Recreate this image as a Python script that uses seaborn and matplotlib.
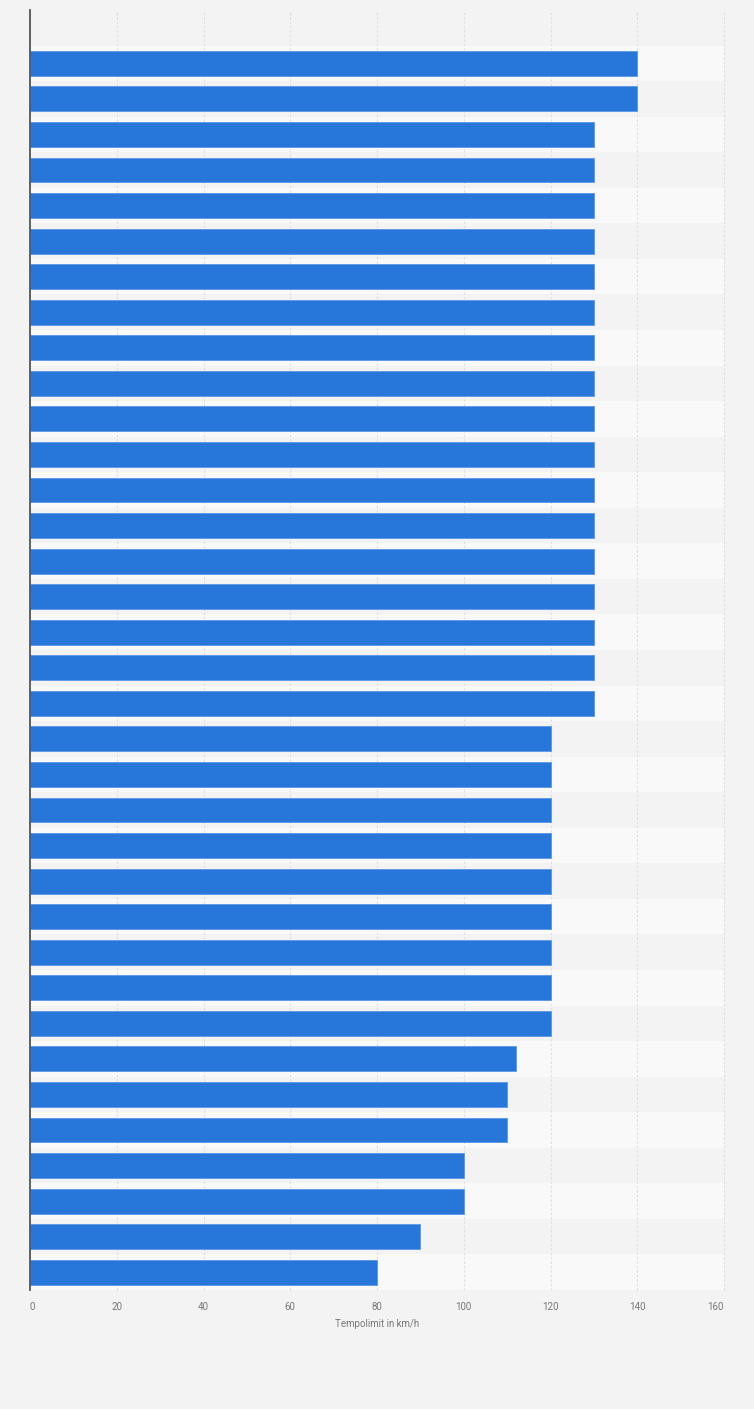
import matplotlib
matplotlib.use("Agg")
import matplotlib.pyplot as plt
import seaborn as sns
import pandas as pd

# Tempolimit values (km/h), top to bottom; the country names are not shown in the chart
limits = [140, 140] + [130] * 17 + [120] * 9 + [112, 110, 110, 100, 100, 90, 80]
rows = [f"row {i + 1}" for i in range(len(limits))]
x_ticks = [0, 20, 40, 60, 80, 100, 120, 140, 160]
x_label = "Tempolimit in km/h"

BAR = "#2777db"
BG = "#f3f3f3"
BAND = "#f9f9f9"

sns.set_theme(style="white")
plt.rcParams["font.family"] = ["Roboto", "DejaVu Sans"]

df = pd.DataFrame({"row": rows, "limit": limits})

fig = plt.figure(figsize=(7.54, 14.09), dpi=100, facecolor=BG)
ax = fig.add_axes([30 / 754, 1 - 1290 / 1409, 694 / 754, 1280 / 1409])
ax.set_facecolor(BG)

# alternating row bands
for i in range(len(rows)):
    if i % 2 == 0:
        ax.axhspan(i - 0.5, i + 0.5, color=BAND, zorder=0, lw=0)

sns.barplot(data=df, x="limit", y="row", orient="h", color=BAR, width=0.7,
            saturation=1, ax=ax, zorder=3, edgecolor="#5a97e6", linewidth=0.6)

ax.set_xlim(0, 160)
ax.set_ylim(len(rows) - 0.5, -1.5)
ax.set_xticks(x_ticks)
ax.set_xticklabels([str(t) for t in x_ticks], fontsize=7, color="#777777")
labels = ax.get_xticklabels()
labels[0].set_ha("left")
labels[-1].set_ha("right")
ax.tick_params(axis="x", length=0, pad=9)
ax.set_yticks([])
ax.set_ylabel("")
ax.set_xlabel(x_label, fontsize=7, color="#777777", labelpad=5)

ax.grid(axis="x", color="#dedede", linestyle=(0, (2, 2)), linewidth=0.8, zorder=1)
for line in ax.get_xgridlines():
    line.set_clip_on(False)
ax.set_axisbelow(True)
for side in ["top", "right", "bottom"]:
    ax.spines[side].set_visible(False)
ax.spines["left"].set_color("#555555")
ax.spines["left"].set_linewidth(1.3)
ax.spines["left"].set_zorder(5)

fig.savefig("out.png", dpi=100, facecolor=BG)
